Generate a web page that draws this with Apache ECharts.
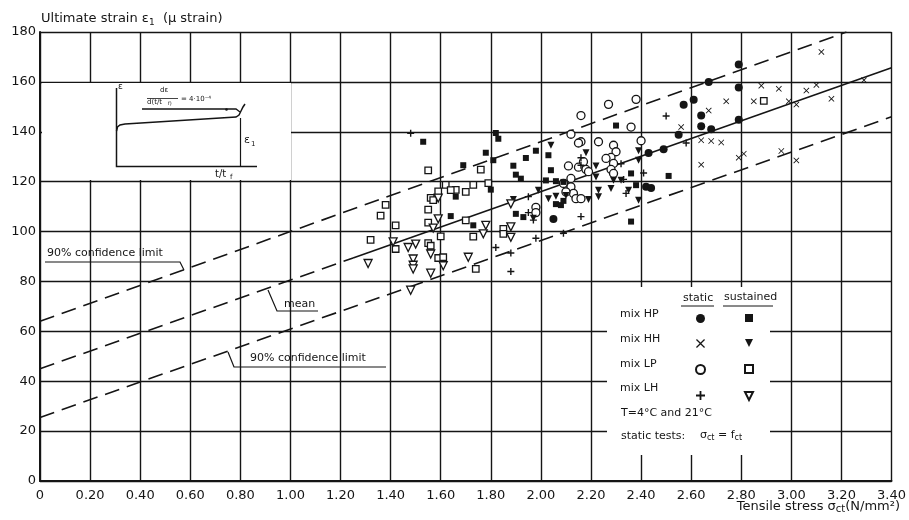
<!DOCTYPE html>
<html>
<head>
<meta charset="utf-8">
<script src="https://cdn.jsdelivr.net/npm/echarts@6/dist/echarts.min.js"></script>
<style>html,body{margin:0;background:#fff}#main{width:909px;height:520px}</style>
</head>
<body>
<div id="main"></div>
<script>
// measured points, [tensile stress, ultimate strain]
var hpStatic = [[2.05,105],[2.42,118],[2.44,117.5],[2.43,131.5],[2.49,133],[2.55,138.8],[2.57,150.8],[2.61,152.8],[2.64,146.5],[2.64,142.2],[2.68,141],[2.67,160],[2.79,167],[2.79,157.8],[2.79,144.8]];
var hpSustained = [[1.53,136],[1.69,126.6],[1.78,131.6],[1.81,128.6],[1.82,139.5],[1.83,137.2],[1.89,126.4],[1.90,122.8],[1.92,121.2],[1.94,129.5],[1.98,132.4],[2.03,130.6],[2.04,124.6],[1.66,114],[1.80,116.8],[1.64,106.2],[1.73,102.5],[1.90,107.1],[1.93,105.8],[2.06,111],[2.08,110.6],[2.09,112.3],[2.02,120.5],[2.06,120.2],[2.09,119.9],[2.30,142.5],[2.36,123.3],[2.38,118.6],[2.36,104],[2.51,122.3]];
var hhStatic = [[3.12,172],[2.88,158.5],[2.95,157.2],[3.06,156.5],[3.10,158.8],[3.29,160.7],[2.74,152.2],[2.85,152.2],[2.99,152.2],[3.02,150.9],[3.16,153.2],[2.67,148.5],[2.56,141.9],[2.64,136.6],[2.68,136.3],[2.72,135.7],[2.79,129.6],[2.81,131.2],[2.96,132.3],[3.02,128.5],[2.64,126.8]];
var hhSustained = [[2.04,134.6],[2.18,131.6],[2.39,132.4],[2.39,128.6],[2.22,126.3],[1.99,116.6],[2.03,113.2],[2.06,114.2],[2.10,114.5],[2.19,112.9],[2.23,116.6],[2.23,114],[1.97,105.3],[2.35,116.6],[2.39,112.6],[2.28,117.3],[2.29,120.6],[2.32,120.6],[1.89,112.9],[2.22,121.9]];
var lpStatic = [[2.16,146.5],[2.27,151],[2.38,153],[2.36,141.9],[2.12,139],[2.16,136],[2.23,136],[2.40,136.4],[2.15,135.5],[2.29,134.6],[2.30,132],[2.28,129.7],[2.26,129.3],[2.11,126.3],[2.15,125.8],[2.18,124.9],[2.19,124],[2.17,128],[2.29,127.3],[2.28,124.9],[2.29,123.3],[2.12,121.3],[2.09,119.3],[2.12,117.9],[2.13,115.3],[2.10,115.9],[2.14,113.2],[2.16,113.2],[1.98,109.7],[1.98,107.6]];
var lpSustained = [[1.55,124.5],[1.76,124.8],[1.62,118.7],[1.73,118.7],[1.79,119.4],[1.66,116.7],[1.59,116.1],[1.56,113.5],[1.38,110.7],[1.36,106.4],[1.55,108.8],[1.70,104.5],[1.55,103.6],[1.42,102.5],[1.60,98.1],[1.73,98],[1.85,101.1],[1.85,99.1],[1.32,96.7],[1.42,93],[1.55,95.4],[1.56,94.3],[1.59,89.4],[1.61,89.7],[1.74,85],[1.64,116.6],[1.70,115.9],[1.57,112.6],[2.89,152.4]];
var lhStatic = [[1.82,93.6],[1.88,91.4],[1.88,84],[2.50,146.3],[2.16,129.6],[2.32,127.2],[2.41,123.5],[1.95,107.6],[2.16,106],[2.34,115.3],[1.95,114],[1.98,97.3],[2.09,99.3],[1.48,139.4],[2.16,126.6],[2.33,120.9],[2.58,135.5],[1.97,104.6]];
var lhSustained = [[1.31,87.2],[1.41,95.9],[1.47,93.6],[1.50,95],[1.56,91],[1.61,86.3],[1.49,89],[1.49,86.5],[1.49,85],[1.71,89.7],[1.56,83.3],[1.48,76.5],[1.59,113.4],[1.88,111.1],[1.59,105.1],[1.57,101.4],[1.78,102.5],[1.77,99.1],[1.88,101.9],[1.88,97.7]];

// fitted lines (end points)
var meanDashed = [[0,45],[1.25,89.4]];
var meanSolid = [[1.25,89.4],[3.4,165.7]];
var upperLimit = [[0,64],[3.22,180]];
var lowerLimit = [[0,25.5],[3.4,146]];

var staticNames = ['mix HP static','mix HH static','mix LP static','mix LH static'];
var sustainedNames = ['mix HP sustained','mix HH sustained','mix LP sustained','mix LH sustained'];

var FONT = 'DejaVu Sans';
var INK = '#151515';

var crossPath = 'path://M0,1 L1,0 L5,4 L9,0 L10,1 L6,5 L10,9 L9,10 L5,6 L1,10 L0,9 L4,5 Z';
var plusPath = 'path://M4,0 L6,0 L6,4 L10,4 L10,6 L6,6 L6,10 L4,10 L4,6 L0,6 L0,4 L4,4 Z';
var downTri = 'path://M0,0 L10,0 L5,10 Z';

function pts(name, data, symbol, size, open) {
    return {
        name: name,
        type: 'scatter',
        data: data,
        symbol: symbol,
        symbolSize: size,
        z: 5,
        itemStyle: open ? {color: '#fff', borderColor: INK, borderWidth: 1.3, opacity: 1}
                        : {color: INK, borderColor: INK, borderWidth: 0, opacity: 1}
    };
}

function fitLine(data, dashed) {
    return {
        type: 'line',
        data: data,
        symbol: 'none',
        silent: true,
        z: 3,
        lineStyle: {color: INK, width: 1.6, type: dashed ? [15, 8] : 'solid'}
    };
}

var chart = echarts.init(document.getElementById('main'));

var option = {
    backgroundColor: '#fff',
    animation: false,
    title: [{
        text: '{a|Ultimate strain ε}{s|1}{a|  (µ strain)}',
        left: 36, top: 6,
        textStyle: {rich: {
            a: {fontFamily: FONT, fontSize: 13, fontWeight: 'normal', color: INK},
            s: {fontFamily: FONT, fontSize: 9, fontWeight: 'normal', color: INK, padding: [7, 0, 0, 0]}
        }}
    }, {
        text: '{a|Tensile stress σ}{s|ct}{a|(N/mm²)}',
        right: 4, bottom: 2,
        textStyle: {rich: {
            a: {fontFamily: FONT, fontSize: 13, fontWeight: 'normal', color: INK},
            s: {fontFamily: FONT, fontSize: 10, fontWeight: 'normal', color: INK, padding: [6, 0, 0, 0]}
        }}
    }],
    grid: {left: 40, right: 13, top: 32, bottom: 39},
    xAxis: {
        type: 'value', min: 0, max: 3.4, interval: 0.2,
        axisLine: {lineStyle: {color: INK, width: 2}},
        axisTick: {show: false},
        axisLabel: {
            color: INK, fontFamily: FONT, fontSize: 13, margin: 8,
            showMaxLabel: true,
            formatter: function (v) { return v === 0 ? '0' : v.toFixed(2); }
        },
        splitLine: {lineStyle: {color: INK, width: 1.4}}
    },
    yAxis: {
        type: 'value', min: 0, max: 180, interval: 20,
        axisLine: {show: true, lineStyle: {color: INK, width: 2}},
        axisTick: {show: false},
        axisLabel: {color: INK, fontFamily: FONT, fontSize: 13, margin: 4},
        splitLine: {lineStyle: {color: INK, width: 1.4}}
    },
    legend: [{
        data: staticNames, orient: 'vertical', left: 690, top: 309,
        itemWidth: 9, itemHeight: 9, itemGap: 16, z: 20,
        selectedMode: false, formatter: function () { return ''; }
    }, {
        data: sustainedNames, orient: 'vertical', left: 739, top: 309,
        itemWidth: 8, itemHeight: 8, itemGap: 17, z: 20,
        selectedMode: false, formatter: function () { return ''; }
    }],
    series: [
        fitLine(meanDashed, true),
        fitLine(meanSolid, false),
        fitLine(upperLimit, true),
        fitLine(lowerLimit, true),
        pts('mix HP static', hpStatic, 'circle', 8, false),
        pts('mix HH static', hhStatic, crossPath, 6, false),
        pts('mix LP static', lpStatic, 'circle', 8, true),
        pts('mix LH static', lhStatic, plusPath, 7, false),
        pts('mix HP sustained', hpSustained, 'rect', 6, false),
        pts('mix HH sustained', hhSustained, downTri, 7, false),
        pts('mix LP sustained', lpSustained, 'rect', 6.5, true),
        pts('mix LH sustained', lhSustained, downTri, 8, true)
    ]
};

// legend box, annotations and the small inset sketch
var txt = function (x, y, s, size) {
    return {type: 'text', x: x, y: y, z: 30, style: {text: s, fill: INK, fontFamily: FONT, fontSize: size || 11}};
};
var poly = function (p, w) {
    return {type: 'polyline', z: 30, shape: {points: p}, style: {stroke: INK, lineWidth: w || 1.2, fill: null}};
};

option.graphic = [
    {type: 'rect', z: 10, shape: {x: 607, y: 287, width: 163, height: 168}, style: {fill: '#fff'}},
    txt(683, 293, 'static', 11),
    poly([[681, 306], [714, 306]], 1),
    txt(724, 292, 'sustained', 11),
    poly([[723, 306], [773, 306]], 1),
    txt(620, 309, 'mix HP', 11),
    txt(620, 334, 'mix HH', 11),
    txt(620, 359, 'mix LP', 11),
    txt(620, 383, 'mix LH', 11),
    txt(621, 408, 'T=4°C and 21°C', 11),
    txt(621, 431, 'static tests:', 11),
    {type: 'text', x: 700, y: 429, z: 30, style: {
        text: '{a|σ}{s|ct}{a| = f}{s|ct}', fontFamily: FONT,
        rich: {a: {fontFamily: FONT, fontSize: 11, fill: INK}, s: {fontFamily: FONT, fontSize: 8, fill: INK, padding: [5, 0, 0, 0]}}
    }},

    // upper confidence label
    txt(47, 248, '90% confidence limit', 11),
    poly([[45, 262], [180, 262], [184, 270]]),
    // mean label
    txt(284, 299, 'mean', 11),
    poly([[318, 311], [277, 311], [268, 290]]),
    // lower confidence label
    txt(250, 353, '90% confidence limit', 11),
    poly([[228, 352], [234, 367], [386, 367]]),

    // inset
    {type: 'rect', z: 9, shape: {x: 42, y: 83, width: 249, height: 97}, style: {fill: '#fff'}},
    poly([[116.5, 88], [116.5, 166.5], [257, 166.5]], 1.5),
    txt(118, 82, 'ε', 9),
    poly([[116.5, 131], [117.5, 127], [120, 125], [125, 124], [236, 117], [239, 115], [241, 111], [243, 107], [245, 104]], 1.5),
    poly([[142, 109], [236, 109], [240, 112]], 1.3),
    {type: 'circle', z: 30, shape: {cx: 226.5, cy: 109.5, r: 1.3}, style: {fill: INK}},
    poly([[240.5, 118], [240.5, 166]], 1.2),
    txt(160, 87, 'dε', 7),
    poly([[147, 98.5], [178, 98.5]], 0.8),
    txt(147, 99, 'd(t/t', 7),
    txt(168, 101, 'f)', 5),
    txt(181, 96, '= 4·10⁻⁴', 7),
    txt(244, 135, 'ε', 11),
    txt(251, 141, '1', 7),
    txt(215, 169, 't/t', 10),
    txt(230, 174, 'f', 7)
];

chart.setOption(option);
</script>
</body>
</html>
